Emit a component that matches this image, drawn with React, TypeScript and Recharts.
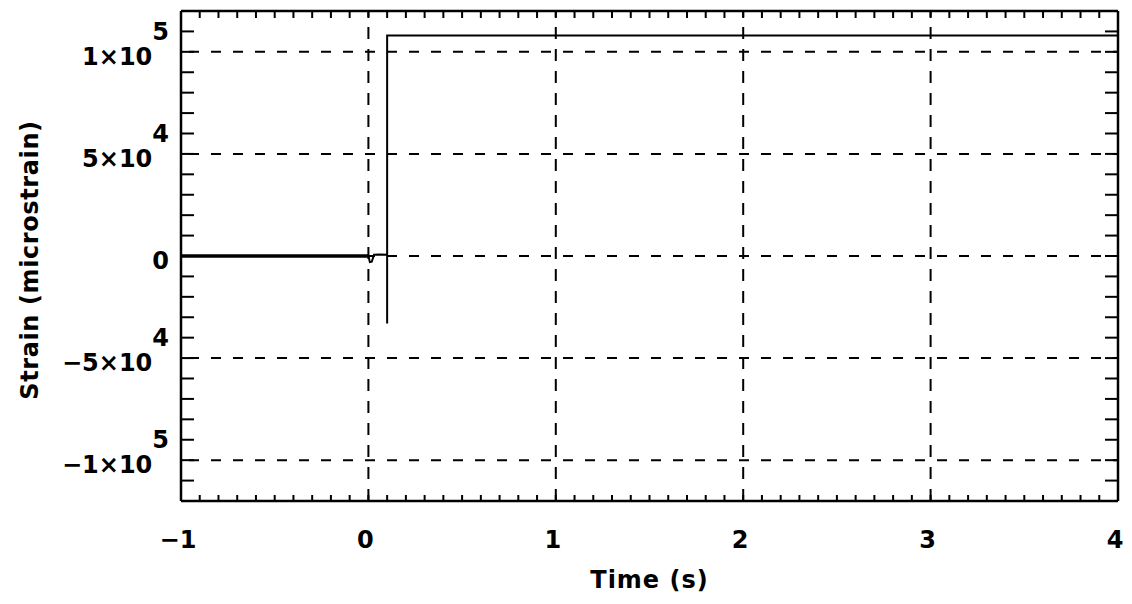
import { Label, Line, LineChart, ReferenceLine, XAxis, YAxis } from 'recharts'

// time in seconds, strain in microstrain
const preTrigger = [
  { t: -1, v: 0 },
  { t: 0, v: 0 },
]

const response = [
  { t: 0, v: 0 },
  { t: 0.008, v: -3000 },
  { t: 0.018, v: -2800 },
  { t: 0.03, v: 600 },
  { t: 0.06, v: 700 },
  { t: 0.1, v: 600 },
  { t: 0.1, v: -33000 },
  { t: 0.1, v: 108000 },
  { t: 4, v: 108000 },
]

const xTicks = [-1, 0, 1, 2, 3, 4]
const xTickLabels = ['\u22121', '0', '1', '2', '3', '4']
const xGrid = [0, 1, 2, 3]

const yTicks = [-100000, -50000, 0, 50000, 100000]
const yTickLabels: Array<[string, string]> = [
  ['\u22121\u00d710', '5'],
  ['\u22125\u00d710', '4'],
  ['0', ''],
  ['5\u00d710', '4'],
  ['1\u00d710', '5'],
]

const X_DOMAIN: [number, number] = [-1, 4]
const Y_DOMAIN: [number, number] = [-120000, 120000]

const range = (start: number, stop: number, step: number) => {
  const out: number[] = []
  const n = Math.round((stop - start) / step)
  for (let i = 0; i <= n; i++) out.push(Math.round((start + i * step) * 1e6) / 1e6)
  return out
}

const xMinor = range(-1, 4, 0.1)
const yMinor = range(-120000, 120000, 10000)

const FONT = '"DejaVu Sans", sans-serif'
const INK = '#000'

function YTick(props: any) {
  const { x, y, payload } = props
  const idx = yTicks.indexOf(payload.value)
  const [base, exp] = yTickLabels[idx] ?? [String(payload.value), '']
  return (
    <text x={x} y={y + 13} textAnchor="end" fontFamily={FONT} fontWeight="bold" fontSize={24} fill={INK}>
      {base}
      {exp && <tspan dy={-25}>{exp}</tspan>}
    </text>
  )
}

function XTick(props: any) {
  const { x, y, payload } = props
  const idx = xTicks.indexOf(payload.value)
  return (
    <text x={x - 3} y={y + 47} textAnchor="middle" fontFamily={FONT} fontWeight="bold" fontSize={24} fill={INK}>
      {xTickLabels[idx] ?? payload.value}
    </text>
  )
}

// frame ticks carry no labels, only their tick lines
const NoLabel = () => <g />

export default function App() {
  return (
    <div style={{ position: 'absolute', left: 0, top: 0, background: '#fff' }}>
      <LineChart
        width={1132}
        height={604}
        data={response}
        margin={{ top: 11, right: 14, bottom: 43, left: 11 }}
      >
        {/* labelled axes */}
        <XAxis
          xAxisId="main"
          dataKey="t"
          type="number"
          domain={X_DOMAIN}
          allowDataOverflow
          ticks={xTicks}
          interval={0}
          height={60}
          axisLine={false}
          tickLine={false}
          tickSize={0}
          tickMargin={0}
          tick={<XTick />}
        >
          <Label
            content={(p: any) => {
              const vb = p.viewBox
              return (
                <text
                  x={vb.x + vb.width / 2}
                  y={vb.y + 87}
                  textAnchor="middle"
                  fontFamily={FONT}
                  fontWeight="bold"
                  fontSize={24}
                  letterSpacing={1}
                  fill={INK}
                >
                  Time (s)
                </text>
              )
            }}
          />
        </XAxis>
        <YAxis
          yAxisId="main"
          type="number"
          domain={Y_DOMAIN}
          allowDataOverflow
          ticks={yTicks}
          interval={0}
          width={170}
          axisLine={false}
          tickLine={false}
          tickSize={0}
          tickMargin={12}
          tick={<YTick />}
        >
          <Label
            content={(p: any) => {
              const vb = p.viewBox
              const cx = 38
              const cy = vb.y + vb.height / 2 + 4
              return (
                <text
                  x={cx}
                  y={cy}
                  transform={`rotate(-90 ${cx} ${cy})`}
                  textAnchor="middle"
                  fontFamily={FONT}
                  fontWeight="bold"
                  fontSize={24}
                  letterSpacing={0.6}
                  fill={INK}
                >
                  Strain (microstrain)
                </text>
              )
            }}
          />
        </YAxis>

        {/* frame with inward minor ticks */}
        <XAxis
          xAxisId="bottomFrame"
          dataKey="t"
          type="number"
          domain={X_DOMAIN}
          allowDataOverflow
          ticks={xMinor}
          interval={0}
          orientation="bottom"
          mirror
          height={1}
          tick={<NoLabel />}
          tickSize={6}
          stroke={INK}
          axisLine={{ stroke: INK, strokeWidth: 2.5 }}
          tickLine={{ stroke: INK, strokeWidth: 2 }}
        />
        <XAxis
          xAxisId="topFrame"
          dataKey="t"
          type="number"
          domain={X_DOMAIN}
          allowDataOverflow
          ticks={xMinor}
          interval={0}
          orientation="top"
          mirror
          height={1}
          tick={<NoLabel />}
          tickSize={7}
          stroke={INK}
          axisLine={{ stroke: INK, strokeWidth: 2.5 }}
          tickLine={{ stroke: INK, strokeWidth: 2 }}
        />
        <YAxis
          yAxisId="leftFrame"
          type="number"
          domain={Y_DOMAIN}
          allowDataOverflow
          ticks={yMinor}
          interval={0}
          orientation="left"
          mirror
          width={1}
          tick={<NoLabel />}
          tickSize={13}
          stroke={INK}
          axisLine={{ stroke: INK, strokeWidth: 2.5 }}
          tickLine={{ stroke: INK, strokeWidth: 2 }}
        />
        <YAxis
          yAxisId="rightFrame"
          type="number"
          domain={Y_DOMAIN}
          allowDataOverflow
          ticks={yMinor}
          interval={0}
          orientation="right"
          mirror
          width={1}
          tick={<NoLabel />}
          tickSize={13}
          stroke={INK}
          axisLine={{ stroke: INK, strokeWidth: 2.5 }}
          tickLine={{ stroke: INK, strokeWidth: 2 }}
        />

        {/* dashed grid */}
        {xGrid.map((v) => (
          <ReferenceLine
            key={`vx${v}`}
            xAxisId="main"
            yAxisId="main"
            x={v}
            stroke={INK}
            strokeWidth={2}
            strokeDasharray="12 10"
          />
        ))}
        {yTicks.map((v) => (
          <ReferenceLine
            key={`hy${v}`}
            xAxisId="main"
            yAxisId="main"
            y={v}
            stroke={INK}
            strokeWidth={2}
            strokeDasharray="10 12"
            strokeDashoffset={14}
          />
        ))}

        <Line
          xAxisId="main"
          yAxisId="main"
          data={preTrigger}
          dataKey="v"
          type="linear"
          stroke={INK}
          strokeWidth={3.5}
          dot={false}
          isAnimationActive={false}
        />
        <Line
          xAxisId="main"
          yAxisId="main"
          data={response}
          dataKey="v"
          type="linear"
          stroke={INK}
          strokeWidth={2}
          dot={false}
          isAnimationActive={false}
        />
      </LineChart>
    </div>
  )
}
